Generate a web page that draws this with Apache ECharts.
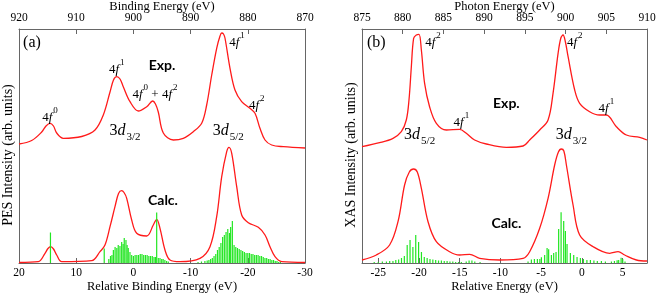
<!DOCTYPE html>
<html>
<head>
<meta charset="utf-8">
<script src="https://cdn.jsdelivr.net/npm/echarts@6/dist/echarts.min.js"></script>
<style>
html,body{margin:0;padding:0;background:#fff;}
#c{width:656px;height:295px;}
</style>
</head>
<body>
<div id="c"></div>
<script>
// ---- Panel (a): PES, x = relative binding energy (eV), y = intensity (arb.)
const pesExp = [[20.00,119],[17.78,122.5],[16.03,131],[15.28,137],[14.58,139.7],[13.97,137],[13.41,130],[12.26,124.7],[9.04,126.5],[6.71,133],[5.26,148],[4.09,171],[3.48,183],[2.92,186.3],[2.34,184],[1.77,176.3],[0.59,161.3],[-0.86,152],[-2.33,156.3],[-3.37,162],[-3.86,159],[-4.35,151],[-5.23,130],[-6.98,123],[-8.72,124.7],[-10.47,131.3],[-11.94,139.7],[-12.81,158],[-13.69,188],[-14.56,214.7],[-15.14,227],[-15.44,230],[-15.75,229],[-16.01,225],[-16.89,194.7],[-17.76,173],[-18.93,161.3],[-20.38,154.7],[-21.26,149.7],[-22.13,134.7],[-23.01,123],[-24.18,118],[-26.21,116.3],[-30,115]];
const pesCalc = [[20.00,0.5],[16.63,1.3],[15.45,9.7],[14.93,14.5],[14.46,16.3],[13.97,14],[13.41,8],[12.53,1.3],[7.29,2.3],[5.84,11.3],[4.97,18],[4.09,36.3],[3.22,56.3],[2.6,69.5],[2.05,72.3],[1.64,70.5],[1.17,64.7],[0.30,43],[-0.58,29.7],[-2.33,27],[-3.48,38],[-4.07,43.7],[-4.65,34.7],[-5.52,13],[-6.40,3],[-8.15,1.3],[-11.64,4.7],[-13.39,16.3],[-14.56,46.3],[-15.44,86.3],[-16.31,111.3],[-16.71,115.7],[-17.19,109.7],[-18.06,76.3],[-18.93,48],[-20.09,40.3],[-21.84,35.7],[-23.01,28],[-23.88,16.3],[-24.76,6.3],[-25.93,1.3],[-30,0.5]];
const pesSticks = [[14.5,30.5],[5.1,14.5],
 [4.3,4],[4.0,7],[3.75,8],[3.5,13],[3.2,16],[2.9,15],[2.65,18],[2.35,17],[2.05,21],[1.8,19],[1.6,25],[1.3,23],[1.1,18],[0.9,15],[0.6,11],[0.3,8],
 [0.0,7],[-0.3,8],[-0.6,8],[-0.9,8],[-1.2,9],[-1.5,9],[-1.8,8],[-2.1,8],[-2.4,8],[-2.7,7],[-3.0,7],[-3.3,7],[-3.6,6],[-3.85,6],[-4.07,50.5],[-4.35,5],[-4.65,5],[-4.95,4],[-5.2,4],[-5.5,3],[-5.8,2],[-6.1,1.5],
 [-11.3,1],[-11.9,1.5],[-12.5,2],[-12.9,2.5],[-13.2,3],
 [-13.5,4],[-13.8,5],[-14.1,7],[-14.4,9],[-14.7,13],[-15.0,16],[-15.3,20],[-15.6,26],[-15.9,28],[-16.2,31],[-16.5,34],[-16.8,30],[-17.0,36],[-17.3,42],[-17.6,18],[-17.9,16],[-18.2,15],[-18.5,14],[-18.8,13],[-19.1,12],[-19.4,11],[-19.7,10],[-20.0,10],[-20.3,10],[-20.6,9],[-20.9,9],[-21.2,8],[-21.5,8],[-21.8,8],[-22.1,7],[-22.4,7],[-22.7,6],[-23.0,5],[-23.3,5],[-23.6,4],[-23.9,4],[-24.2,3],[-24.5,3],[-24.8,2],[-25.1,2],[-25.4,1],[-25.7,1]];

// ---- Panel (b): XAS, x = relative energy (eV)
const xasExp = [[-27.00,116.3],[-24.84,120.3],[-23.19,124.7],[-22.17,131.3],[-21.56,143],[-21.23,163],[-20.94,196.3],[-20.66,224.7],[-20.33,228],[-20.00,228.7],[-19.71,213],[-19.31,179.7],[-18.70,156.3],[-17.87,139.7],[-16.64,133],[-15.01,133.7],[-14.19,129.7],[-13.17,123],[-11.73,119],[-9.27,115.7],[-7.22,117],[-6.41,123],[-5.18,133],[-4.15,143],[-3.54,169.7],[-2.92,209.7],[-2.58,225],[-2.31,228],[-2.02,221],[-1.69,206.3],[-0.88,173],[-0.27,159.7],[0.96,151.3],[2.19,148],[3.01,148],[4.24,136.3],[5.47,128],[7.10,125.7],[8.0,123]];
const xasCalc = [[-27.00,3],[-25.24,8],[-23.61,18],[-22.58,41.3],[-21.77,78],[-21.19,91],[-20.66,94],[-20.21,91],[-19.71,74.7],[-18.89,41.3],[-17.87,21.3],[-16.24,11.3],[-15.01,8],[-13.78,8.7],[-12.55,4.7],[-10.10,3],[-7.22,4.7],[-6.41,11.3],[-5.18,34.7],[-4.15,64.7],[-3.34,98],[-2.88,111],[-2.52,114],[-2.21,112],[-1.90,98],[-1.08,58],[-0.27,28],[1.38,16.3],[3.42,9.7],[4.45,11.3],[5.26,8],[6.70,3],[8.0,2]];
const xasSticks = [[-25.5,1],[-25.0,1],[-24.5,1.5],[-24.0,1.5],[-23.6,2],[-23.2,2],[-22.85,3],[-22.5,3.5],[-22.15,5],[-21.8,7],[-21.45,18],[-21.1,23],[-20.75,16],[-20.4,28],[-20.05,21],[-19.7,11],[-19.35,6],[-19.0,5],[-18.65,4],[-18.3,3.5],[-17.95,3],[-17.6,2.5],[-17.25,2.5],[-16.9,2],[-16.55,2],[-16.2,1.5],[-15.85,1.5],[-15.5,1],[-15.15,1],[-14.8,1],[-14.2,1.5],[-13.85,2.5],[-13.5,2.5],[-13.15,1.5],[-12.5,1],
 [-6.61,1.5],[-6.2,3.5],[-5.83,4],[-5.46,4],[-5.16,4],[-4.97,5.7],[-4.57,8],[-4.27,15],[-4.08,13.7],[-3.74,8],[-3.46,10],[-3.17,11],[-2.85,34],[-2.55,50.7],[-2.23,42],[-2.02,32],[-1.82,19],[-1.41,10],[-1.0,8],[-0.59,6],[-0.18,5],[0.19,4],[0.62,3],[1.05,3],[1.48,2.5],[1.9,2],[2.4,2],[2.89,1.5],
 [3.63,1.5],[4.0,2],[4.33,2.7],[4.52,3],[4.82,5.3],[5.02,4],[5.3,1.5]];
const xasRelTicks = [-25,-20,-15,-10,-5,0,5];

// ---- Annotations [x, y, text]
const pesNotes = [
 [17.73,220,'{P|(a)}'],
 [-5.0,198,'{B|Exp.}'],
 [-5.17,63,'{B|Calc.}'],
 [14.58,148,'{n|4}{i|f}{s|0}'],
 [2.92,196,'{n|4}{i|f}{s|1}'],
 [-3.78,171,'{n|4}{i|f}{s|0}{n| + 4}{i|f}{s|2}'],
 [-18.1,223,'{n|4}{i|f}{s|1}'],
 [-21.56,160,'{n|4}{i|f}{s|2}'],
 [1.47,130,'{N|3}{I|d}{S|3/2}'],
 [-16.59,130,'{N|3}{I|d}{S|5/2}']
];
const xasNotes = [
 [-25.24,220,'{P|(b)}'],
 [-18.28,223,'{n|4}{i|f}{s|2}'],
 [-14.8,143,'{n|4}{i|f}{s|1}'],
 [-9.27,160,'{B|Exp.}'],
 [-0.88,223,'{n|4}{i|f}{s|2}'],
 [3.01,157,'{n|4}{i|f}{s|1}'],
 [-19.92,126,'{N|3}{I|d}{S|5/2}'],
 [-1.29,126,'{N|3}{I|d}{S|3/2}'],
 [-9.27,40,'{B|Calc.}']
];

const SERIF = 'Liberation Serif';
const RED = '#ff1a1a';
const GREEN = '#22e622';
const AXC = '#666';
const TXT = '#000';

const rich = {
  P:{fontFamily:SERIF,fontSize:16,color:TXT},
  B:{fontFamily:'Lato',fontWeight:'bold',fontSize:14,color:TXT},
  n:{fontFamily:SERIF,fontSize:13,lineHeight:18,verticalAlign:'bottom',color:TXT},
  i:{fontFamily:SERIF,fontStyle:'italic',fontSize:13,lineHeight:18,verticalAlign:'bottom',color:TXT,padding:[0,1,0,0]},
  s:{fontFamily:SERIF,fontSize:9,lineHeight:10,verticalAlign:'top',color:TXT},
  N:{fontFamily:SERIF,fontSize:16,lineHeight:20,verticalAlign:'top',color:TXT},
  I:{fontFamily:SERIF,fontStyle:'italic',fontSize:16,lineHeight:20,verticalAlign:'top',color:TXT,padding:[0,1,0,0]},
  S:{fontFamily:SERIF,fontSize:11,lineHeight:10,verticalAlign:'bottom',color:TXT}
};

function xAx(grid, pos, min, max, opts) {
  return Object.assign({
    type:'value', gridIndex:grid, position:pos, min:min, max:max,
    axisLine:{show:true,onZero:false,lineStyle:{color:AXC,width:1}},
    axisTick:{show:true,inside:true,length:5,lineStyle:{color:AXC}},
    axisLabel:{show:true,margin:5,color:'#000',fontFamily:SERIF,fontSize:11.5,showMinLabel:true,showMaxLabel:true},
    splitLine:{show:false},
    nameLocation:'middle',
    nameMoveOverlap:false,
    nameTextStyle:{fontFamily:SERIF,fontSize:12.5,color:'#000'}
  }, opts);
}
function yAx(grid, pos, name) {
  return {
    type:'value', gridIndex:grid, position:pos, min:0, max:234,
    axisLine:{show:true,onZero:false,lineStyle:{color:AXC,width:1}},
    axisTick:{show:false}, axisLabel:{show:false}, splitLine:{show:false},
    name:name||'', nameLocation:'middle', nameGap:4, nameRotate:90, nameMoveOverlap:false,
    nameTextStyle:{fontFamily:SERIF,fontSize:14,color:'#000',verticalAlign:'bottom',padding:[0,18,0,0]}
  };
}
function lineS(xi, yi, data) {
  return {type:'line', xAxisIndex:xi, yAxisIndex:yi, data:data, smooth:0.35, symbol:'none',
    lineStyle:{color:RED,width:1.3}, z:3, silent:true};
}
function barS(xi, yi, data) {
  return {type:'bar', xAxisIndex:xi, yAxisIndex:yi, data:data, barWidth:1.2,
    itemStyle:{color:GREEN}, z:4, silent:true, animation:false};
}
function noteS(xi, yi, notes) {
  return {type:'scatter', xAxisIndex:xi, yAxisIndex:yi, symbolSize:0, z:6, silent:true,
    itemStyle:{opacity:1},
    data: notes.map(n => ({value:[n[0],n[1]], label:{formatter:n[2]}})),
    label:{show:true, position:'inside', color:TXT, opacity:1, rich:rich}};
}

const chart = echarts.init(document.getElementById('c'), null, {renderer:'canvas'});
chart.setOption({
  animation:false,
  backgroundColor:'#fff',
  grid:[
    {left:19, top:29, width:286, height:234, outerBoundsMode:'none'},
    {left:362, top:29, width:285, height:234, outerBoundsMode:'none'}
  ],
  xAxis:[
    xAx(0,'bottom',-30,20,{inverse:true,interval:10,name:'Relative Binding Energy (eV)',nameGap:17,
      axisLabel:{show:true,margin:4,color:'#000',fontFamily:SERIF,fontSize:11.5,showMinLabel:true,showMaxLabel:true}}),
    xAx(0,'top',870,920,{inverse:true,interval:10,name:'Binding Energy (eV)',nameGap:16}),
    xAx(1,'bottom',-27,8,{name:'Relative Energy (eV)',nameGap:17,
      axisTick:{show:true,inside:true,length:5,lineStyle:{color:AXC},customValues:xasRelTicks},
      axisLabel:{show:true,margin:4,color:'#000',fontFamily:SERIF,fontSize:11.5,customValues:xasRelTicks}}),
    xAx(1,'top',875,910,{interval:5,name:'Photon Energy (eV)',nameGap:16})
  ],
  yAxis:[
    yAx(0,'left','PES Intensity (arb. units)'),
    yAx(0,'right'),
    yAx(1,'left','XAS Intensity (arb. units)'),
    yAx(1,'right')
  ],
  series:[
    lineS(0,0,pesExp), lineS(0,0,pesCalc), barS(0,0,pesSticks), noteS(0,0,pesNotes),
    lineS(2,2,xasExp), lineS(2,2,xasCalc), barS(2,2,xasSticks), noteS(2,2,xasNotes)
  ]
});
</script>
</body>
</html>
